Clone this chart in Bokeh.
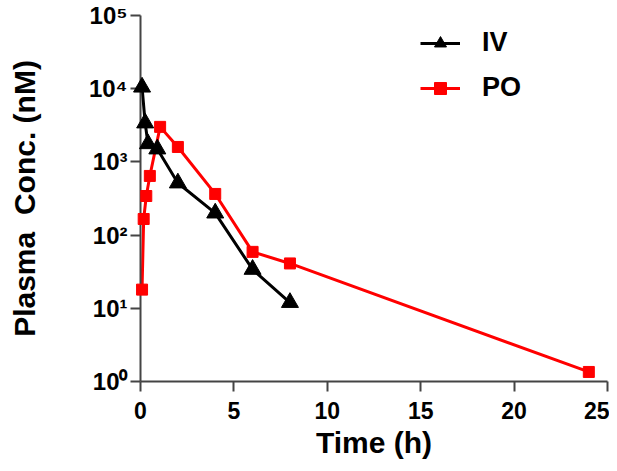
from bokeh.plotting import figure
from bokeh.models import Range1d, FixedTicker, Legend, LegendItem
from bokeh.embed import file_html
from bokeh.resources import INLINE

# Data
iv_time = [0.083, 0.25, 0.4, 0.9, 2, 4, 6, 8]
iv_conc = [10500, 3400, 1770, 1500, 515, 200, 34, 12]

po_time = [0.083, 0.17, 0.31, 0.5, 1.05, 2, 4, 6, 8, 24]
po_conc = [18, 166, 342, 643, 3010, 1600, 365, 59, 41, 1.35]

x_ticks = [0, 5, 10, 15, 20, 25]
y_ticks = [1, 10, 100, 1000, 10000, 100000]
y_tick_labels = ["10⁰", "10¹", "10²", "10³", "10⁴", "10⁵"]

FONT = "Liberation Sans"

p = figure(width=609, height=463, y_axis_type="log",
           x_range=Range1d(0, 25), y_range=Range1d(1, 1e5),
           output_backend="svg", toolbar_location=None,
           min_border_left=140, min_border_right=2,
           min_border_top=15, min_border_bottom=82)

p.outline_line_color = None
p.grid.visible = False
p.background_fill_color = "white"

r_iv = p.line(iv_time, iv_conc, line_color="black", line_width=3)
m_iv = p.scatter(iv_time, iv_conc, marker="triangle", size=17,
                 fill_color="black", line_color="black", level="overlay")
r_po = p.line(po_time, po_conc, line_color="#ff0000", line_width=3)
m_po = p.scatter(po_time, po_conc, marker="square", size=11,
                 fill_color="#ff0000", line_color="#ff0000", level="overlay")

# Axes
p.xaxis.ticker = FixedTicker(ticks=x_ticks)
p.yaxis.ticker = FixedTicker(ticks=y_ticks)
p.yaxis.major_label_overrides = {v: l for v, l in zip(y_ticks, y_tick_labels)}
p.xaxis.minor_tick_line_color = None
p.yaxis.minor_tick_line_color = None
for ax in (p.xaxis, p.yaxis):
    ax.axis_line_color = "#444444"
    ax.axis_line_width = 2
    ax.major_tick_line_color = "#444444"
    ax.major_tick_line_width = 2
    ax.major_tick_out = 10
    ax.major_tick_in = 0
    ax.major_label_text_font = FONT
    ax.major_label_text_font_style = "bold"
    ax.major_label_text_color = "black"
    ax.axis_label_text_font = FONT
    ax.axis_label_text_font_style = "bold"
    ax.axis_label_text_color = "black"
    ax.axis_label_text_font_size = "30px"

p.xaxis.major_label_text_font_size = "23px"
p.yaxis.major_label_text_font_size = "24px"
p.xaxis.major_label_standoff = 10
p.yaxis.major_label_standoff = 3
p.xaxis.axis_label = "Time (h)"
p.yaxis.axis_label = "Plasma\u00a0\u00a0Conc. (nM)"
p.xaxis.axis_label_standoff = 4
p.yaxis.axis_label_standoff = 45

legend = Legend(items=[LegendItem(label="IV", renderers=[r_iv, m_iv]),
                       LegendItem(label="PO", renderers=[r_po, m_po])],
                location=(280, 278))
legend.border_line_color = None
legend.background_fill_alpha = 0
legend.label_text_font = FONT
legend.label_text_font_style = "bold"
legend.label_text_font_size = "27px"
legend.label_text_color = "black"
legend.glyph_width = 40
legend.glyph_height = 30
legend.spacing = 14
legend.label_standoff = 22
p.add_layout(legend, "center")

open("out.html", "w").write(file_html(p, INLINE))
